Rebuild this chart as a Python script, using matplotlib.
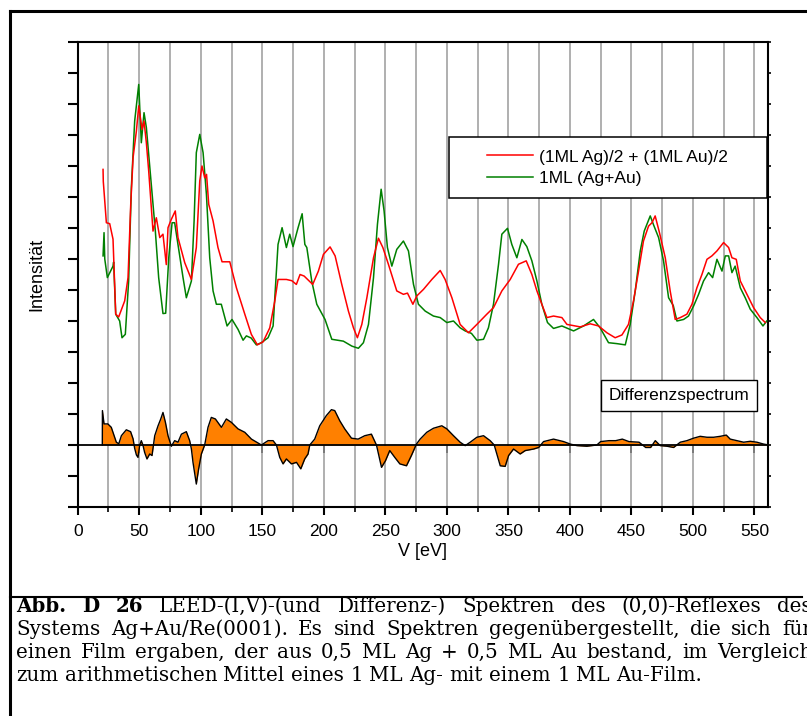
import numpy as np
import matplotlib
matplotlib.use('Agg')
import matplotlib.pyplot as plt
from matplotlib.lines import Line2D
from matplotlib.patches import Rectangle
from matplotlib.ticker import NullLocator, NullFormatter

# values: V in eV, intensity in y-tick units
red_ev = [20.6, 20.8, 23.3, 26, 28.7, 30.9, 33.3, 38.2, 40.9, 43.1,
          45, 47.7, 49.6, 52.3, 53.9, 55.8, 57.7, 61.2, 63.9, 66.7,
          69.3, 72, 73.4, 76.1, 79.3, 81.5, 87, 92.4, 96.4, 99.2,
          101, 103.2, 104.7, 106.5, 110, 114, 117.3, 123.6, 129, 135.8,
          141.1, 146, 150.7, 156.1, 160.2, 162.8, 169.6, 174, 177.7, 180.7,
          184, 191, 195.6, 199.7, 205.1, 209.2, 214.6, 220, 224.1, 227.3,
          230.9, 235, 240.4, 244.4, 248, 252.5, 259.3, 264.7, 268, 272.4,
          275.6, 281, 287.8, 294.6, 298.6, 304.1, 310.8, 317.6, 324.4, 332.5,
          337.9, 344.7, 351.5, 358.2, 364.5, 369.1, 373.2, 377.2, 381.3, 386.7,
          393.5, 397.6, 408.4, 416.5, 423.3, 430.1, 436.8, 442.3, 447.6, 451.7,
          455.8, 459.8, 463.9, 466.7, 469.3, 472.8, 477.5, 481.5, 485.6, 489.7,
          495.1, 499.2, 503.2, 507.3, 511.4, 515.4, 519.5, 524.9, 529, 531.7,
          535.2, 538.5, 543.9, 549.3, 554.7, 558.8]
red_i = [8.89, 8.5, 7.17, 7.14, 6.64, 4.22, 4.13, 4.65, 5.4, 7.76,
         9.27, 10.13, 10.94, 10.18, 10.45, 9.75, 8.84, 6.9, 7.33, 6.69,
         6.8, 5.82, 7.01, 7.28, 7.55, 6.69, 5.88, 5.34, 6.37, 8.52,
         9.0, 8.62, 8.73, 7.76, 7.23, 6.37, 5.91, 5.91, 5.07, 4.22,
         3.57, 3.23, 3.33, 3.78, 4.65, 5.34, 5.34, 5.3, 5.18, 5.5,
         5.45, 5.18, 5.61, 6.15, 6.39, 6.1, 5.18, 4.32, 3.78, 3.46,
         3.89, 4.75, 6.04, 6.67, 6.37, 5.83, 4.97, 4.86, 4.9, 4.54,
         4.81, 5.02, 5.34, 5.63, 5.34, 4.75, 3.89, 3.62, 3.89, 4.22,
         4.43, 4.97, 5.34, 5.83, 5.94, 5.5, 4.97, 4.54, 4.11, 4.16,
         4.11, 3.89, 3.81, 3.91, 3.84, 3.62, 3.46, 3.55, 3.89, 4.65,
         5.61, 6.58, 7.06, 7.17, 7.39, 6.85, 6.04, 4.97, 4.05, 4.11,
         4.22, 4.54, 5.07, 5.5, 5.99, 6.1, 6.26, 6.53, 6.37, 6.04,
         5.99, 5.29, 4.86, 4.43, 4.11, 3.95]

green_ev = [20.6, 21.4, 22.0, 24.1, 28.7, 29.2, 30.9, 34.1, 36, 38.7,
            41.4, 43.6, 46.3, 49.6, 51.7, 53.9, 55.8, 58.5, 61.2, 63.1,
            65.8, 69.3, 71.5, 74, 76.7, 78.8, 81.5, 85.6, 88.3, 92.4,
            94.6, 96.4, 99.2, 101.9, 104.6, 107.3, 110, 112.7, 116.7, 121.4,
            125.4, 130.3, 134.4, 137.1, 141, 145.2, 149.3, 154.7, 158.8, 162.8,
            166.1, 169.6, 172.3, 175, 179.1, 182.4, 184.6, 186.2, 190.2, 194.3,
            201, 206.5, 215.9, 222.8, 228.1, 232.2, 236.3, 240.4, 243.6, 246.6,
            249, 251.7, 255.3, 259.3, 264.7, 268.8, 272.9, 276.9, 282.4, 289.1,
            294.6, 300, 305.4, 310.8, 314.9, 320, 324.4, 329.8, 333.8, 337.9,
            342, 344.7, 349.3, 352.8, 356.9, 361, 365, 369.1, 373.2, 377.2,
            381.8, 386.7, 393.5, 403, 411.1, 419.2, 424.6, 431.4, 438.2, 445,
            449, 453.1, 457.2, 460.4, 465.3, 468, 472.1, 476.1, 480.2, 484,
            487, 492.4, 496.4, 500.5, 504.6, 508.6, 512.7, 516, 519.5, 523.6,
            526.3, 529, 531.7, 534.3, 538.5, 542.5, 546.6, 552, 556.9, 560]
green_i = [6.1, 6.85, 6.0, 5.4, 5.77, 5.9, 4.22, 4.0, 3.46, 3.57,
           5.29, 8.3, 10.45, 11.63, 9.75, 10.72, 10.24, 9.0, 7.76, 6.9,
           5.4, 4.24, 4.25, 6.04, 7.17, 7.17, 6.47, 5.4, 4.75, 5.29,
           7.23, 9.43, 10.02, 9.43, 8.09, 6.04, 4.97, 4.54, 4.54, 3.84,
           4.05, 3.73, 3.38, 3.52, 3.45, 3.23, 3.3, 3.46, 3.84, 6.47,
           7.01, 6.37, 6.8, 6.4, 7.01, 7.46, 6.47, 6.37, 5.29, 4.54,
           4.05, 3.41, 3.35, 3.19, 3.12, 3.3, 3.89, 5.4, 7.12, 8.25,
           7.55, 6.37, 5.77, 6.31, 6.58, 6.26, 5.18, 4.54, 4.32, 4.16,
           4.11, 3.95, 4.0, 3.78, 3.68, 3.6, 3.38, 3.41, 3.78, 4.54,
           5.83, 6.8, 6.99, 6.47, 6.04, 6.63, 6.4, 5.94, 5.29, 4.54,
           3.95, 3.76, 3.84, 3.68, 3.84, 4.05, 3.78, 3.3, 3.27, 3.23,
           3.89, 4.97, 6.26, 6.9, 7.39, 7.1, 6.69, 5.94, 4.75, 4.5,
           4.0, 4.05, 4.16, 4.48, 4.86, 5.29, 5.56, 5.4, 5.99, 5.61,
           6.1, 6.1, 5.56, 5.77, 5.07, 4.75, 4.38, 4.11, 3.84, 4.0]

diff_ev = [20, 20.1, 21.4, 24.5, 27.3, 31.4, 33.4, 35.5, 39.5, 43,
           45, 46.3, 47.7, 49, 50.4, 51.7, 53, 54.4, 56.3, 58.5,
           60.4, 62.6, 65.3, 67.5, 69.3, 71.3, 73.4, 76.1, 78.8, 81.5,
           84.3, 88.3, 91, 92.4, 93.7, 96.4, 98.3, 100.5, 103.2, 105.9,
           108.6, 111.9, 116.8, 120.8, 124.9, 130.3, 135.8, 141.2, 149.3, 154.7,
           158.8, 161.5, 164.2, 166.9, 169.6, 173.7, 177.8, 181.3, 184.5, 187.2,
           188.6, 192.6, 196.7, 202.1, 206.2, 208.9, 213, 217, 222.5, 227.9,
           233.3, 238.7, 242.8, 246.9, 250.1, 253.6, 257.7, 261.8, 267.2, 271.2,
           275.3, 278.3, 283.7, 289.1, 295.9, 300, 305.4, 310.8, 314.9, 319,
           324.4, 329.8, 335.2, 338.5, 340.6, 343.4, 347.4, 350.2, 354.2, 359.6,
           363.7, 370.5, 374.6, 378.6, 386.7, 394.9, 400.3, 405.7, 413.8, 421.9,
           425, 431.8, 437.2, 442.6, 448, 456.2, 461.6, 465.6, 469.4, 473.4,
           478.9, 484.3, 489.7, 495.1, 500.5, 505.9, 511.4, 516.8, 522.2, 527.1,
           530.3, 535.8, 541.2, 546.6, 552, 557.4, 561.5]
diff_i = [0, 1.11, 0.68, 0.68, 0.57, 0.09, 0.04, 0.30, 0.49, 0.43,
          0.2, -0.11, -0.32, -0.40, 0.0, 0.14, 0.0, -0.24, -0.45, -0.29,
          -0.34, 0.30, 0.62, 0.84, 1.05, 0.73, 0.30, -0.04, 0.14, 0.09,
          0.35, 0.43, 0.14, -0.13, -0.56, -1.26, -0.77, -0.29, 0.0, 0.57,
          0.89, 0.84, 0.57, 0.84, 0.73, 0.52, 0.41, 0.19, 0.0, 0.14,
          0.14, 0.0, -0.40, -0.61, -0.45, -0.61, -0.56, -0.77, -0.45, -0.29,
          0.0, 0.19, 0.62, 0.95, 1.14, 1.11, 0.78, 0.52, 0.22, 0.19,
          0.30, 0.35, 0.0, -0.72, -0.51, -0.18, -0.40, -0.61, -0.67, -0.34,
          0.03, 0.19, 0.41, 0.54, 0.62, 0.52, 0.30, 0.09, -0.02, 0.09,
          0.25, 0.30, 0.14, 0.0, -0.29, -0.67, -0.69, -0.34, -0.13, -0.29,
          -0.18, -0.13, -0.08, 0.11, 0.19, 0.11, 0.03, -0.02, -0.04, 0.0,
          0.11, 0.14, 0.14, 0.19, 0.11, 0.09, -0.08, -0.08, 0.14, -0.02,
          -0.04, -0.08, 0.09, 0.14, 0.22, 0.28, 0.25, 0.25, 0.28, 0.32,
          0.19, 0.14, 0.09, 0.12, 0.09, 0.03, 0.0]

labels = ['(1ML Ag)/2 + (1ML Au)/2', '1ML (Ag+Au)']
caption = ['Abb. D 26 LEED-(I,V)-(und Differenz-) Spektren des (0,0)-Reflexes des',
           'Systems Ag+Au/Re(0001). Es sind Spektren gegenübergestellt, die sich für',
           'einen Film ergaben, der aus 0,5 ML Ag + 0,5 ML Au bestand, im Vergleich',
           'zum arithmetischen Mittel eines 1 ML Ag- mit einem 1 ML Au-Film.']

W, H = 807, 716
plt.rcParams['font.family'] = ['Liberation Sans', 'DejaVu Sans']

fig = plt.figure(figsize=(W / 100, H / 100), dpi=100)
fig.patch.set_facecolor('white')

def fx(px):
    return px / W

def fy(py):
    return 1 - py / H

ax = fig.add_axes([fx(77.7), fy(507), (768 - 77.7) / W, (507 - 42) / H])
ax.set_xlim(0, 561)
ax.set_ylim(-2, 13)

ax.set_xticks(np.arange(0, 551, 50))
ax.set_xticks(np.arange(25, 551, 50), minor=True)
ax.set_yticks(np.arange(-2, 14, 1))
ax.yaxis.set_major_formatter(NullFormatter())
ax.grid(axis='x', which='both', color='#9a9a9a', lw=1.1)
ax.set_axisbelow(True)
for s in ax.spines.values():
    s.set_linewidth(1.5)
ax.tick_params(axis='x', which='major', length=5.8, width=1.5, pad=6.5, labelsize=12.5)
ax.tick_params(axis='x', which='minor', length=3.5, width=1.2)
ax.tick_params(axis='y', which='major', length=7, width=1.5)

# small ticks on the right spine
sy = ax.secondary_yaxis('right')
sy.set_yticks(np.arange(-2, 14, 1))
sy.tick_params(length=2.5, width=1.2, labelright=False)
sy.spines['right'].set_visible(False)

# axis through zero with its own ticks
ax.axhline(0, color='black', lw=1.3, zorder=3)
sx = ax.secondary_xaxis(2 / 15)
sx.set_xticks(np.arange(0, 551, 50))
sx.xaxis.set_minor_locator(NullLocator())
sx.tick_params(length=6, width=1.3, labelbottom=False)
sx.spines['bottom'].set_visible(False)

ax.fill_between(diff_ev, 0, diff_i, color='#ff8000', lw=0, zorder=2)
ax.plot(diff_ev, diff_i, color='black', lw=1.0, zorder=3)

l1, = ax.plot(red_ev, red_i, color='#ff0000', lw=1.1, zorder=4)
l2, = ax.plot(green_ev, green_i, color='#008000', lw=1.1, zorder=3.5)

ax.set_xlabel('V [eV]', fontsize=13)
ax.xaxis.set_label_coords(0.5, -0.078)
ax.set_ylabel('Intensität', fontsize=13)
ax.yaxis.set_label_coords(-0.047, 0.5)

# legend box
ax.add_patch(Rectangle((0.538, 0.6645), 0.4606, 0.1312, transform=ax.transAxes,
                       facecolor='white', edgecolor='black', lw=1.1, zorder=5))
leg = ax.legend([l1, l2], labels, loc='center', bbox_to_anchor=(0.768, 0.730),
                frameon=False, fontsize=12.5, handlelength=2.6, handletextpad=0.4,
                labelspacing=0.35, borderpad=0)
leg.set_zorder(6)

ax.text(0.8715, 0.2398, 'Differenzspectrum', transform=ax.transAxes, fontsize=12.5,
        ha='center', va='center', zorder=6,
        bbox=dict(boxstyle='square,pad=0.45', fc='white', ec='black', lw=1.0))

# outer frame and caption rule
fig.add_artist(Line2D([fx(9.5), fx(9.5)], [fy(10.5), fy(716)], color='black', lw=2.2))
fig.add_artist(Line2D([fx(9.5), fx(807)], [fy(10.5), fy(10.5)], color='black', lw=2.2))
fig.add_artist(Line2D([fx(9.5), fx(802)], [fy(596.5), fy(596.5)], color='black', lw=1.5))

# justified caption (runs past the right edge as in the original page crop)
renderer = fig.canvas.get_renderer()
cap_font = dict(family='DejaVu Serif', size=14.3)
baselines = [612, 635, 658, 681]
x_left, x_right = 16, 812
for i, line in enumerate(caption):
    words = line.split(' ')
    texts = []
    for j, w in enumerate(words):
        bold = (i == 0 and j < 3)
        t = fig.text(0, fy(baselines[i]), w, ha='left', va='baseline',
                     fontweight='bold' if bold else 'normal', **cap_font)
        texts.append(t)
    widths = [t.get_window_extent(renderer).width for t in texts]
    if i < len(caption) - 1:
        gap = (x_right - x_left - sum(widths)) / (len(words) - 1)
    else:
        sp = fig.text(0, 0, 'a a', **cap_font)
        sp2 = fig.text(0, 0, 'aa', **cap_font)
        gap = sp.get_window_extent(renderer).width - sp2.get_window_extent(renderer).width
        sp.remove()
        sp2.remove()
    x = x_left
    for t, w in zip(texts, widths):
        t.set_x(fx(x))
        x += w + gap

fig.savefig('out.png', dpi=100, facecolor='white')
